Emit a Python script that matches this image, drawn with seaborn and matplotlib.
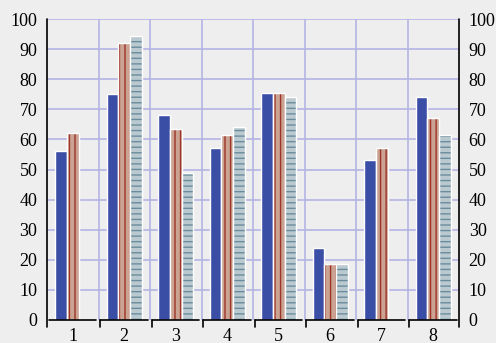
import numpy as np
import pandas as pd
import matplotlib
matplotlib.use("Agg")
import matplotlib.pyplot as plt
from matplotlib.colors import to_rgba
import seaborn as sns

groups = ["1", "2", "3", "4", "5", "6", "7", "8"]
series_a = [56, 75, 68, 57, 75.5, 24, 53, 74]
series_b = [62, 92, 63.5, 61.5, 75.5, 18.5, 57, 67]
series_c = [np.nan, 94.5, 49, 64, 74, 18.5, np.nan, 61.5]
series_names = ["A", "B", "C"]
y_ticks = [0, 10, 20, 30, 40, 50, 60, 70, 80, 90, 100]

rows = []
for name, vals in zip(series_names, [series_a, series_b, series_c]):
    for g, v in zip(groups, vals):
        rows.append({"group": g, "series": name, "value": v})
df = pd.DataFrame(rows)

bg = "#eeeeee"
sns.set_style("white")
plt.rcParams["font.family"] = ["Liberation Serif", "DejaVu Serif"]
plt.rcParams["hatch.linewidth"] = 1.0

fig = plt.figure(figsize=(4.96, 3.43), dpi=100, facecolor=bg)
W, H = 496, 343
ax = fig.add_axes([47 / W, 1 - 320 / H, (459 - 47) / W, (320 - 19) / H])
ax.set_facecolor(bg)

palette = {"A": "#3b4ea6", "B": "#cba393", "C": "#bac9d0"}
sns.barplot(data=df, x="group", y="value", hue="series", order=groups,
            hue_order=series_names, palette=palette, width=0.67, gap=0,
            errorbar=None, saturation=1, edgecolor="white", linewidth=1.0,
            legend=False, ax=ax, zorder=3)

hatches = {"A": None, "B": "|||", "C": "---"}
hcolors = {"A": "white", "B": "#9e3428", "C": "#6a8c9c"}
for cont, name in zip(ax.containers, series_names):
    for p in cont:
        if hatches[name]:
            p.set_hatch(hatches[name])
            done = False
            if hasattr(p, "set_hatchcolor"):
                try:
                    p.set_hatchcolor(hcolors[name])
                    done = True
                except Exception:
                    done = False
            if not done:
                p._hatch_color = to_rgba(hcolors[name])
                p.stale = True

ax.set_xlim(-0.5, len(groups) - 0.5)
ax.set_ylim(0, 100)
ax.set_yticks(y_ticks)
ax.set_xlabel("")
ax.set_ylabel("")

grid_c = "#b4b4e4"
for y in y_ticks[1:]:
    ax.axhline(y, color=grid_c, lw=1.2, zorder=1)
for i in range(len(groups) - 1):
    ax.axvline(i + 0.5, color=grid_c, lw=1.2, zorder=1)

for s in ["top", "bottom", "left", "right"]:
    ax.spines[s].set_visible(False)

tr = ax.get_xaxis_transform()
ext = 6.5 / 301
ax.plot([-0.5, -0.5], [1, -ext], transform=tr, color="black", lw=1.2, clip_on=False, zorder=5)
ax.plot([7.5, 7.5], [1, -ext], transform=tr, color="black", lw=1.2, clip_on=False, zorder=5)
for i in range(len(groups)):
    x0 = i - 0.5 + 0.03
    x1 = i + 0.5 - 0.04
    ax.plot([x0, x1], [0, 0], transform=tr, color="black", lw=1.2, clip_on=False, zorder=5)
    if i > 0:
        ax.plot([x0, x0], [0, -ext], transform=tr, color="black", lw=1.2, clip_on=False, zorder=5)

ax.tick_params(axis="y", which="both", length=0, pad=7, labelsize=13,
               left=True, right=True, labelleft=True, labelright=True)
ax.tick_params(axis="x", length=0, pad=6, labelsize=13)
for lab in ax.get_xticklabels() + ax.get_yticklabels():
    lab.set_color("black")

fig.savefig("out.png", dpi=100, facecolor=bg)
